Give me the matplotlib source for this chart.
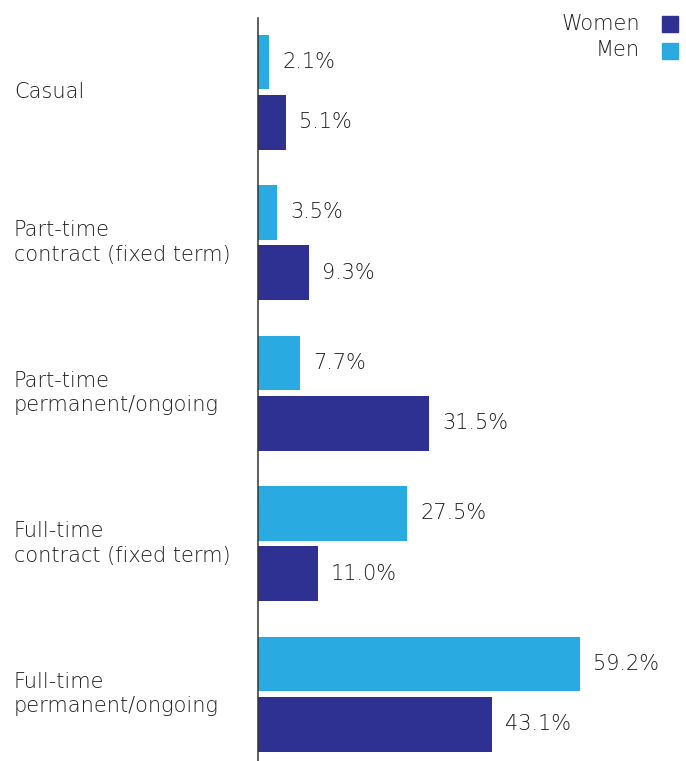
import matplotlib
matplotlib.use("Agg")
import matplotlib.pyplot as plt
import matplotlib.transforms as mtransforms
from matplotlib.patches import Rectangle

# Employment type by gender (%)
categories = ["Casual",
              "Part-time\ncontract (fixed term)",
              "Part-time\npermanent/ongoing",
              "Full-time\ncontract (fixed term)",
              "Full-time\npermanent/ongoing"]
men = [2.1, 3.5, 7.7, 27.5, 59.2]
women = [5.1, 9.3, 31.5, 11.0, 43.1]

WOMEN_COLOR = "#2E3192"
MEN_COLOR = "#29ABE2"
TEXT_COLOR = "#1e1e1e"
FONT = ["DejaVu Sans"]
FS = 15

W, H, DPI = 686, 761, 100
fig = plt.figure(figsize=(W / DPI, H / DPI), dpi=DPI)
ax = fig.add_axes([258 / W, 0, (W - 258) / W, (H - 18) / H])

pos = list(range(len(categories)))
men_y = [p for p in pos]
women_y = [p + 0.402 for p in pos]

ax.barh(men_y, men, height=0.36, color=MEN_COLOR)
ax.barh(women_y, women, height=0.366, color=WOMEN_COLOR)

for y, v in zip(men_y, men):
    ax.annotate(f"{v:.1f}%", (v, y), xytext=(9.5, 0), textcoords="offset points",
                va="center", ha="left", fontsize=FS, color=TEXT_COLOR,
                family=FONT, weight="light")
for y, v in zip(women_y, women):
    ax.annotate(f"{v:.1f}%", (v, y), xytext=(9.5, 0), textcoords="offset points",
                va="center", ha="left", fontsize=FS, color=TEXT_COLOR,
                family=FONT, weight="light")

# category labels at the far left of the figure
trans = mtransforms.blended_transform_factory(fig.transFigure, ax.transData)
for p, label in zip(pos, categories):
    ax.text(14 / W, p + 0.2, label, transform=trans, ha="left", va="center",
            fontsize=FS, color=TEXT_COLOR, family=FONT, weight="light",
            linespacing=1.27, clip_on=False)

ax.set_xlim(0, (W - 258) / 5.435)
ax.set_ylim(4.645, -0.292)
for side in ["top", "right", "bottom"]:
    ax.spines[side].set_visible(False)
ax.spines["left"].set_color("#333333")
ax.spines["left"].set_linewidth(1.1)
ax.set_xticks([])
ax.set_yticks([])

# legend in the top right corner
for label, color, yc in [("Women", WOMEN_COLOR, 23.5), ("Men", MEN_COLOR, 50.5)]:
    fig.text(640 / W, 1 - yc / H, label, ha="right", va="center", fontsize=FS,
             color=TEXT_COLOR, family=FONT, weight="light")
    fig.patches.append(Rectangle((662 / W, 1 - (yc + 8) / H), 16 / W, 16 / H,
                                 transform=fig.transFigure, color=color))

fig.savefig("out.png", dpi=DPI)
